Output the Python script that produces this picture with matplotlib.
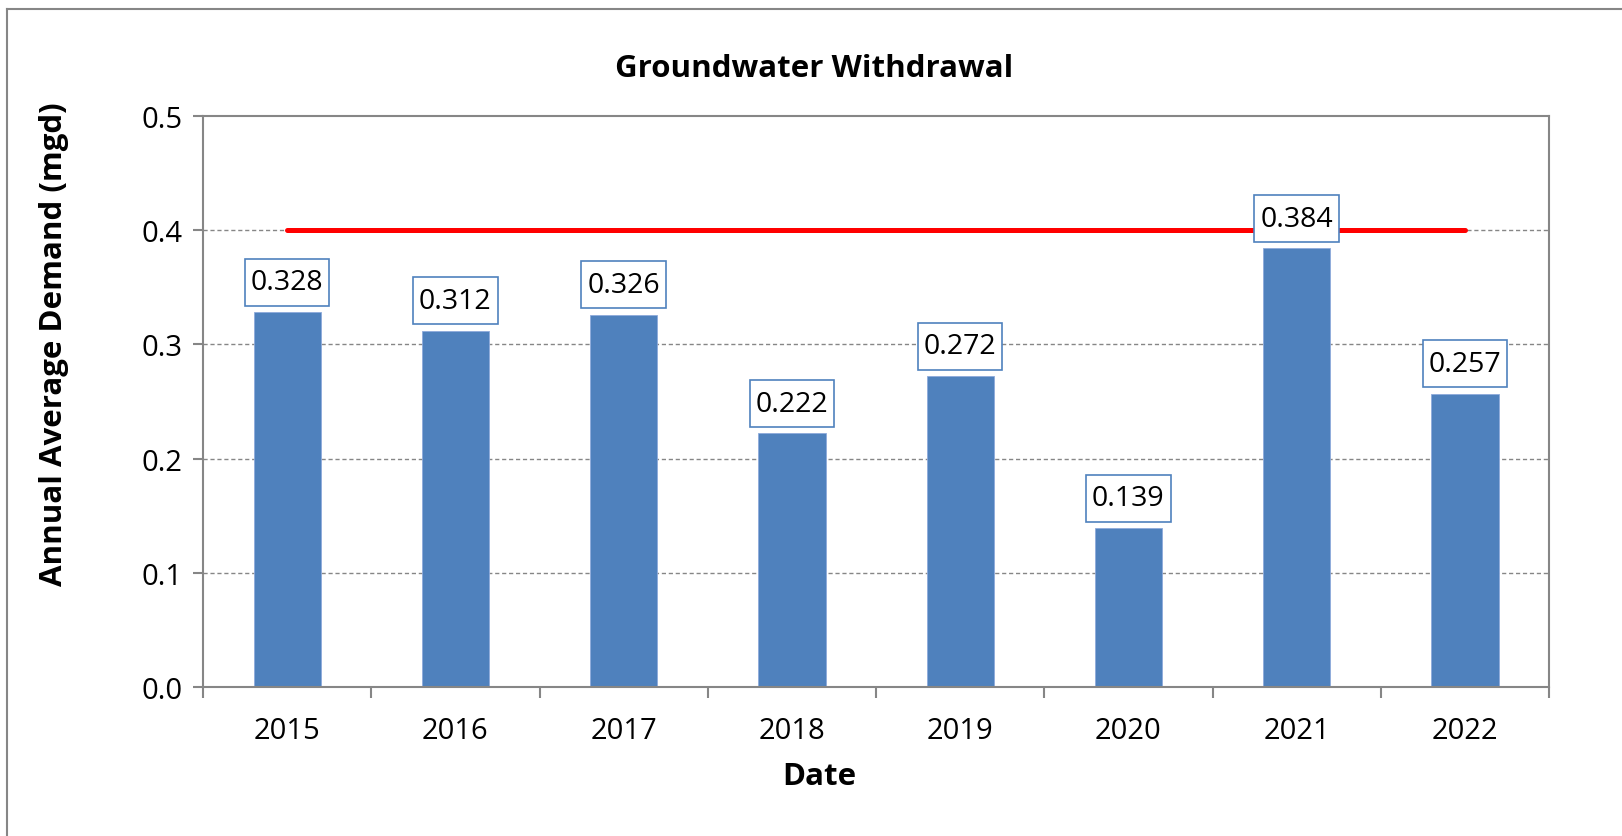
import matplotlib
matplotlib.use("Agg")
import matplotlib.pyplot as plt
import numpy as np
from matplotlib.lines import Line2D

years = ["2015", "2016", "2017", "2018", "2019", "2020", "2021", "2022"]
demand = [0.328, 0.312, 0.326, 0.222, 0.272, 0.139, 0.384, 0.257]
limit = 0.4
y_ticks = [0.0, 0.1, 0.2, 0.3, 0.4, 0.5]

BLUE = "#4F81BD"
GRID = "#868686"
FONT = "Open Sans"
FS_LABEL = 20.5
FS_TICK = 21
FS_BOLD = 22.5

plt.rcParams["font.family"] = FONT

fig = plt.figure(figsize=(16.22, 8.37), dpi=100)
ax = fig.add_axes([0.1252, 0.178, 0.8298, 0.6822])

x = np.arange(len(years))
ax.bar(x, demand, width=0.4, color=BLUE, edgecolor="#8EAADB", linewidth=0.6, zorder=2)
ax.plot([x[0], x[-1]], [limit, limit], color="#FF0000", linewidth=3.6,
        solid_capstyle="round", zorder=3)

for xi, val in zip(x, demand):
    ax.annotate(f"{val:.3f}", (xi, val), xytext=(0, 11.5), textcoords="offset points",
                ha="center", va="bottom", fontsize=FS_LABEL, zorder=4,
                bbox=dict(boxstyle="square,pad=0.21", mutation_aspect=1.55,
                          facecolor="white", edgecolor=BLUE, linewidth=1.2))

ax.set_xlim(-0.5, len(years) - 0.5)
ax.set_ylim(0, 0.5)
ax.set_yticks(y_ticks)
ax.set_yticklabels([f"{v:.1f}" for v in y_ticks], fontsize=FS_TICK)
ax.set_xticks(x)
ax.set_xticklabels(years, fontsize=FS_TICK)
ax.tick_params(axis="x", length=0, pad=21)
ax.tick_params(axis="y", length=7, width=1.5, color=GRID, pad=8)
ax.set_xticks(np.arange(len(years) + 1) - 0.5, minor=True)
ax.tick_params(axis="x", which="minor", length=8, width=1.5, color=GRID)

for v in y_ticks[1:-1]:
    ax.axhline(v, color=GRID, linestyle=(0, (3, 2)), linewidth=1.0, zorder=1)

for side in ["left", "right", "top", "bottom"]:
    ax.spines[side].set_color(GRID)
    ax.spines[side].set_linewidth(1.5)

fig.text(0.0333, 0.589, "Annual Average Demand (mgd)", rotation=90, ha="center", va="center",
         fontsize=FS_BOLD, fontweight="bold")
fig.text(0.505, 0.072, "Date", ha="center", va="center", fontsize=FS_BOLD, fontweight="bold")
fig.text(0.502, 0.918, "Groundwater Withdrawal", ha="center", va="center",
         fontsize=FS_BOLD, fontweight="bold")

# outer chart-area border (only top and left edges visible)
fig.add_artist(Line2D([7 / 1622, 7 / 1622], [0, 1 - 10 / 837], transform=fig.transFigure,
                      color=GRID, linewidth=1.5))
fig.add_artist(Line2D([7 / 1622, 1], [1 - 10 / 837, 1 - 10 / 837], transform=fig.transFigure,
                      color=GRID, linewidth=1.5))

fig.savefig("out.png", dpi=100)
